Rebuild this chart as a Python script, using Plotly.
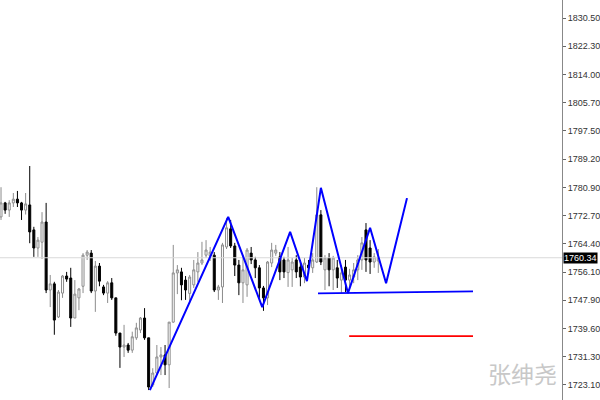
import plotly.graph_objects as go

opens = [1772.3,1776.4,1774.3,1776.4,1777.5,1776.4,1774.3,1775.8,1768.5,1763.2,
         1764.9,1770.8,1750.9,1752.7,1743.0,1750.0,1755.0,1754.4,1742.7,1748.6,
         1752.0,1761.1,1761.7,1750.6,1757.9,1751.8,1750.0,1753.0,1748.6,1738.3,
         1734.2,1734.8,1733.3,1736.9,1739.2,1742.7,1736.9,1723.1,1726.6,1731.3,
         1731.9,1729.0,1741.5,1755.9,1756.2,1753.8,1749.9,1752.4,1756.2,1758.8,
         1761.1,1760.9,1761.1,1750.9,1751.8,1763.5,1768.8,1763.8,1758.2,1753.0,
         1752.4,1761.7,1759.7,1757.4,1751.5,1748.6,1758.8,1761.7,1760.6,1759.7,
         1756.0,1756.8,1759.7,1757.6,1754.7,1758.2,1757.4,1759.1,1772.9,1756.8,
         1760.3,1756.8,1757.4,1753.8,1757.6,1753.8,1754.7,1756.8,1759.7,1768.5,
         1763.2,1759.1,1759.4]
highs = [1781.0,1776.7,1777.2,1779.3,1779.9,1776.7,1779.3,1787.2,1769.4,1766.4,
         1773.7,1776.4,1755.3,1753.3,1750.9,1755.3,1756.2,1757.4,1753.8,1751.5,
         1761.7,1762.6,1762.6,1759.4,1758.8,1752.4,1753.5,1754.4,1748.6,1738.3,
         1740.7,1735.4,1738.7,1741.3,1743.0,1745.6,1736.9,1728.0,1734.8,1734.2,
         1734.8,1741.5,1764.1,1758.2,1757.4,1755.0,1755.3,1759.7,1762.0,1765.0,
         1765.5,1763.5,1762.0,1752.4,1764.7,1772.0,1771.4,1764.7,1759.7,1761.1,
         1763.2,1763.5,1760.6,1758.2,1752.1,1759.4,1764.7,1764.1,1762.0,1760.6,
         1763.5,1760.3,1761.1,1759.7,1760.3,1759.7,1761.7,1781.0,1774.3,1761.1,
         1761.7,1760.9,1759.7,1758.2,1759.7,1757.1,1758.8,1761.1,1766.4,1770.5,
         1765.5,1761.7,1762.9]
lows = [1771.4,1773.2,1772.3,1775.2,1775.2,1771.4,1773.0,1764.6,1760.6,1760.6,
        1760.0,1750.0,1745.9,1737.8,1742.7,1748.6,1753.3,1740.1,1742.7,1745.0,
        1750.0,1759.7,1750.0,1744.5,1752.0,1749.4,1747.1,1748.0,1737.5,1728.1,
        1731.3,1732.5,1732.5,1736.3,1738.3,1736.3,1721.6,1722.5,1726.0,1726.0,
        1726.0,1722.2,1741.3,1749.7,1747.9,1748.0,1747.0,1751.5,1753.3,1758.2,
        1760.3,1759.4,1750.3,1748.0,1747.1,1762.9,1763.2,1755.0,1749.4,1747.1,
        1748.9,1758.5,1754.4,1748.6,1744.8,1746.5,1757.6,1760.9,1753.8,1754.4,
        1751.8,1751.8,1754.4,1752.0,1752.9,1755.6,1755.9,1758.8,1758.2,1750.9,
        1752.0,1750.9,1751.5,1750.0,1750.3,1751.5,1752.9,1753.8,1756.8,1756.2,
        1755.6,1757.4,1755.9]
closes = [1776.4,1774.3,1776.4,1777.5,1776.4,1774.3,1776.1,1767.9,1763.2,1765.5,
          1770.8,1750.9,1752.7,1742.1,1750.3,1755.0,1754.1,1742.7,1749.7,1751.2,
          1761.1,1762.0,1750.6,1757.9,1753.5,1750.0,1753.0,1748.6,1738.3,1734.2,
          1734.8,1733.3,1737.2,1739.8,1742.7,1736.9,1722.5,1726.6,1731.3,1731.9,
          1729.0,1741.5,1755.9,1756.8,1752.4,1750.9,1754.7,1756.8,1758.8,1759.7,
          1762.6,1762.0,1750.9,1751.8,1764.1,1769.1,1763.8,1758.2,1753.0,1756.8,
          1762.6,1759.7,1757.4,1751.5,1748.6,1759.1,1762.6,1762.6,1756.2,1756.2,
          1759.7,1759.1,1756.2,1754.7,1758.8,1757.4,1759.7,1772.9,1759.1,1760.3,
          1756.8,1760.3,1754.4,1755.9,1753.8,1755.3,1756.8,1759.7,1764.7,1759.7,
          1759.1,1760.6,1760.34]
bars = list(range(len(opens)))

zigzag_x = [36.3, 55.4, 63.7, 70.5, 74.6, 78.0, 84.6, 90.0, 93.9, 99.0]
zigzag_y = [1721.6, 1772.3, 1745.9, 1767.9, 1753.5, 1780.8, 1750.0, 1769.1, 1752.9, 1777.8]
support_x = [77.3, 115.1]
support_y = [1749.9, 1750.5]
target_x = [84.9, 115.1]
target_y = [1737.4, 1737.4]
last_price = 1760.34

tick_vals = [1723.10, 1731.30, 1739.60, 1747.90, 1756.10, 1764.40, 1772.70,
             1780.90, 1789.20, 1797.50, 1805.70, 1814.00, 1822.30, 1830.50]
tick_text = ["%.2f" % v for v in tick_vals]

fig = go.Figure()
fig.add_trace(go.Candlestick(
    x=bars, open=opens, high=highs, low=lows, close=closes,
    increasing=dict(line=dict(color="#8c8c8c", width=1), fillcolor="#ffffff"),
    decreasing=dict(line=dict(color="#000000", width=1), fillcolor="#000000"),
    whiskerwidth=0, showlegend=False, hoverinfo="skip"))
fig.add_trace(go.Scatter(x=[-5, 140], y=[last_price, last_price], mode="lines",
                         line=dict(color="#d9d9d9", width=1), showlegend=False, hoverinfo="skip"))
fig.add_trace(go.Scatter(x=zigzag_x, y=zigzag_y, mode="lines",
                         line=dict(color="#0000ff", width=2), showlegend=False, hoverinfo="skip"))
fig.add_trace(go.Scatter(x=support_x, y=support_y, mode="lines",
                         line=dict(color="#0000ff", width=1.6), showlegend=False, hoverinfo="skip"))
fig.add_trace(go.Scatter(x=target_x, y=target_y, mode="lines",
                         line=dict(color="#ff0000", width=1.6), showlegend=False, hoverinfo="skip"))

fig.add_annotation(x=1, xref="paper", y=last_price, yref="y", text="1760.34",
                   showarrow=False, xanchor="left", xshift=1,
                   bgcolor="#000000", font=dict(color="#ffffff", size=9, family="Liberation Sans"),
                   borderpad=0)
fig.add_annotation(x=0.929, xref="paper", xanchor="center", y=1726.6, yref="y", yanchor="middle",
                   text="张绅尧", showarrow=False,
                   font=dict(color="#c8c8c8", size=23, family="Noto Sans CJK SC"))

fig.update_layout(
    width=600, height=400,
    margin=dict(l=0, r=38, t=0, b=0),
    paper_bgcolor="#ffffff", plot_bgcolor="#ffffff",
    xaxis=dict(range=[-0.25, 136.8], visible=False, rangeslider=dict(visible=False),
               showgrid=False, zeroline=False),
    yaxis=dict(range=[1718.7, 1835.8], side="right", showgrid=False, zeroline=False,
               tickvals=tick_vals, ticktext=tick_text, ticks="outside", ticklen=3,
               tickcolor="#666666", showline=True, linecolor="#888888", linewidth=1,
               tickfont=dict(size=9, color="#333333", family="Liberation Sans")),
)
fig.write_html("out.html", config={"displayModeBar": False},
               post_script="document.body.style.margin='0';document.body.style.overflow='hidden';")
